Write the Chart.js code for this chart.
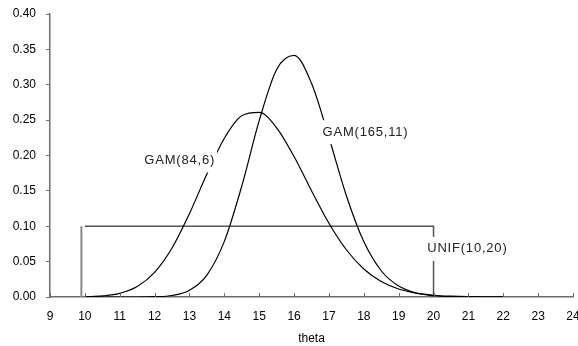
<!DOCTYPE html>
<html>
<head>
<meta charset="utf-8">
<script src="https://cdn.jsdelivr.net/npm/chart.js@4.4.1/dist/chart.umd.min.js"></script>
<style>
  html, body { margin: 0; padding: 0; background: #fff; }
</style>
</head>
<body>
<canvas id="densityChart" width="578" height="346"></canvas>
<script>
// theta grid the densities were read at
const thetaX = [10, 10.5, 11, 11.5, 12, 12.5, 13, 13.5, 14, 14.5, 15, 15.5, 16,
                16.5, 17, 17.5, 18, 18.5, 19, 19.5, 20, 20.5, 21, 21.5, 22];
const gam84 = [0.0003, 0.0015, 0.0051, 0.0147, 0.0348, 0.0692, 0.1179, 0.1738, 0.2244,
               0.2562, 0.2610, 0.2392, 0.1985, 0.1503, 0.1043, 0.0668, 0.0396, 0.0219,
               0.0113, 0.0055, 0.0025, 0.0011, 0.0004, 0.0002, 0.0001];
const gam165 = [0.0000, 0.0000, 0.0000, 0.0000, 0.0004, 0.0021, 0.0094, 0.0310, 0.0786,
                0.1567, 0.2492, 0.3216, 0.3415, 0.3021, 0.2254, 0.1432, 0.0783, 0.0371,
                0.0154, 0.0056, 0.0018, 0.0005, 0.0001, 0.0000, 0.0000];
// uniform prior: top edge + right edge, and the left edge
const unifX = [10, 20, 20];
const unifY = [0.1, 0.1, 0];
const unifLeftX = [9.9, 9.9];
const unifLeftY = [0, 0.1];

const xTicks = [9, 10, 11, 12, 13, 14, 15, 16, 17, 18, 19, 20, 21, 22, 23, 24];
const yTicks = [0, 0.05, 0.1, 0.15, 0.2, 0.25, 0.3, 0.35, 0.4];

const curveLabels = [
  { text: 'GAM(84,6)', x: 12.72, y: 0.193 },
  { text: 'GAM(165,11)', x: 18.05, y: 0.233 },
  { text: 'UNIF(10,20)', x: 20.97, y: 0.068 }
];

const axisColor = '#6e6e6e';
const tickFont = { family: '"Liberation Sans", Arial, sans-serif', size: 12 };

const toPoints = (xs, ys) => xs.map((v, i) => ({ x: v, y: ys[i] }));

const labelPlugin = {
  id: 'curveLabels',
  afterDatasetsDraw(chart) {
    const { ctx, scales: { x, y } } = chart;
    ctx.save();
    // small tick marks pointing up from the x axis
    ctx.strokeStyle = axisColor;
    ctx.lineWidth = 1;
    xTicks.forEach(v => {
      const px = Math.round(x.getPixelForValue(v)) + 0.5;
      ctx.beginPath();
      ctx.moveTo(px, y.bottom);
      ctx.lineTo(px, y.bottom - 4);
      ctx.stroke();
    });
    ctx.font = '13px "Liberation Sans", Arial, sans-serif';
    ctx.letterSpacing = '0.8px';
    ctx.textAlign = 'center';
    ctx.textBaseline = 'middle';
    curveLabels.forEach(l => {
      const px = x.getPixelForValue(l.x);
      const py = y.getPixelForValue(l.y);
      const w = ctx.measureText(l.text).width + 4;
      ctx.fillStyle = '#fff';
      ctx.fillRect(px - w / 2, py - 12, w, 24);
      ctx.fillStyle = '#222';
      ctx.fillText(l.text, px, py);
    });
    ctx.restore();
  }
};

new Chart(document.getElementById('densityChart'), {
  type: 'line',
  data: {
    datasets: [
      {
        label: 'GAM(84,6)',
        data: toPoints(thetaX, gam84),
        borderColor: '#000',
        borderWidth: 1.2,
        pointRadius: 0,
        cubicInterpolationMode: 'monotone'
      },
      {
        label: 'GAM(165,11)',
        data: toPoints(thetaX, gam165),
        borderColor: '#000',
        borderWidth: 1.2,
        pointRadius: 0,
        cubicInterpolationMode: 'monotone'
      },
      {
        label: 'UNIF(10,20)',
        data: toPoints(unifX, unifY),
        borderColor: '#555',
        borderWidth: 1.5,
        pointRadius: 0,
        tension: 0
      },
      {
        label: 'UNIF edge',
        data: toPoints(unifLeftX, unifLeftY),
        borderColor: '#888',
        borderWidth: 2,
        pointRadius: 0,
        tension: 0
      }
    ]
  },
  options: {
    responsive: false,
    animation: false,
    layout: { padding: { top: 14, right: 5, left: 0, bottom: 0 } },
    plugins: {
      legend: { display: false },
      tooltip: { enabled: false }
    },
    scales: {
      x: {
        type: 'linear',
        min: 9,
        max: 24,
        afterBuildTicks: s => { s.ticks = xTicks.map(v => ({ value: v })); },
        ticks: { font: tickFont, color: '#000', padding: 12, maxRotation: 0, autoSkip: false },
        grid: { display: false, drawTicks: false },
        border: { color: axisColor, width: 1.5 },
        title: { display: true, text: 'theta', font: tickFont, color: '#000', padding: { top: 0, bottom: 0 } },
        afterFit: s => { s.height = 49; s.paddingLeft = 0; s.paddingRight = 0; }
      },
      y: {
        min: 0,
        max: 0.4,
        afterBuildTicks: s => { s.ticks = yTicks.map(v => ({ value: v })); },
        ticks: { font: tickFont, color: '#000', padding: 10, callback: v => v.toFixed(2) },
        grid: { display: true, drawOnChartArea: false, drawTicks: true, tickLength: 4, color: axisColor },
        border: { color: axisColor, width: 1.5 },
        afterFit: s => { s.width = 50; s.paddingTop = 0; s.paddingBottom = 0; }
      }
    }
  },
  plugins: [labelPlugin]
});
</script>
</body>
</html>
